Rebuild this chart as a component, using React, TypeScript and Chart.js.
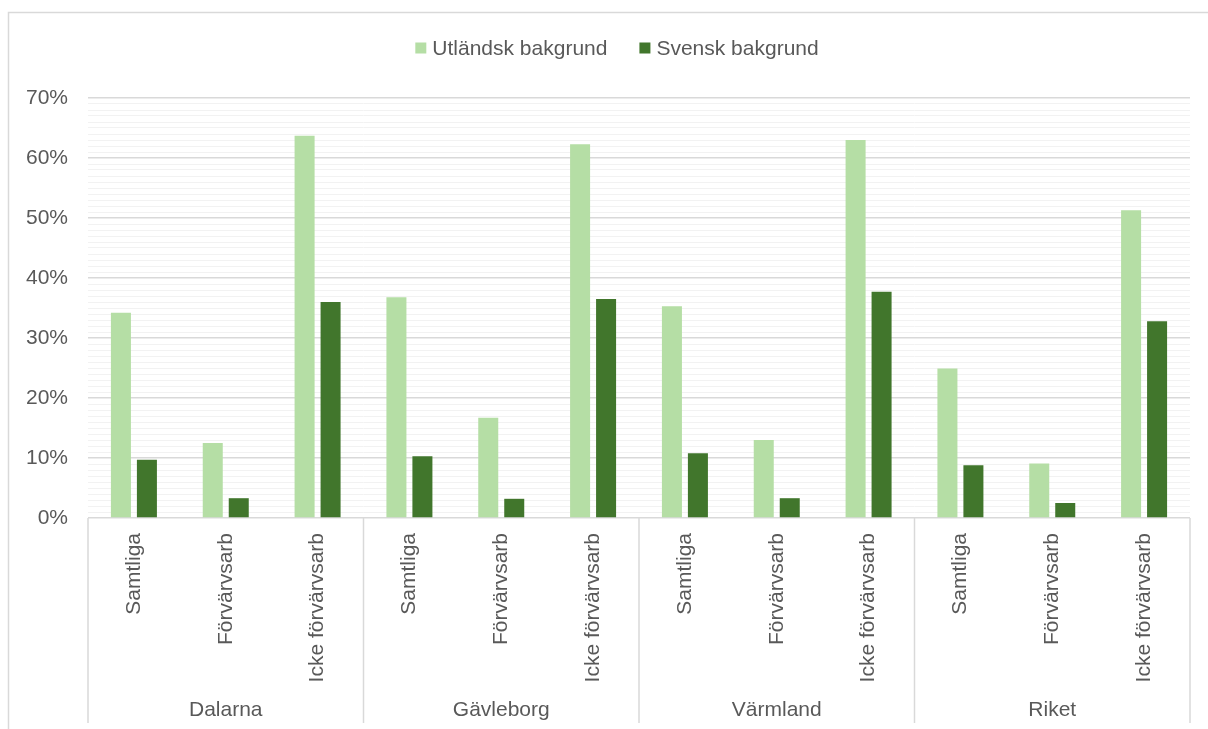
import React, { useEffect, useRef } from "react";
import { Chart, registerables } from "chart.js";

Chart.register(...registerables);

const groups = ["Dalarna", "Gävleborg", "Värmland", "Riket"];
const subCategories = ["Samtliga", "Förvärvsarb", "Icke förvärvsarb"];
const seriesNames = ["Utländsk bakgrund", "Svensk bakgrund"];
const utlandsk = [34.2, 12.5, 63.7, 36.8, 16.7, 62.3, 35.3, 13.0, 63.0, 24.9, 9.1, 51.3];
const svensk = [9.7, 3.3, 36.0, 10.3, 3.2, 36.5, 10.8, 3.3, 37.7, 8.8, 2.5, 32.8];
const yTicksMax = 70;

const LIGHT = "#b5dea5";
const DARK = "#41762c";
const TEXT = "#595959";
const FONT = "'Liberation Sans', Arial, sans-serif";

const labels: string[] = [];
groups.forEach((g) => subCategories.forEach((s) => labels.push(g + " " + s)));

const decorPlugin = {
  id: "decor",
  beforeDraw(chart: any) {
    const ctx = chart.ctx;
    ctx.save();
    ctx.fillStyle = "#ffffff";
    ctx.fillRect(0, 0, chart.width, chart.height);
    ctx.strokeStyle = "#d9d9d9";
    ctx.lineWidth = 1.5;
    ctx.strokeRect(8.5, 12.5, 1205, 740);
    ctx.restore();
  },
  afterDraw(chart: any) {
    const ctx = chart.ctx;
    const xs = chart.scales.x;
    const area = chart.chartArea;
    const n = labels.length;
    const catW = (area.right - area.left) / n;
    ctx.save();
    // separators
    ctx.strokeStyle = "#d9d9d9";
    ctx.lineWidth = 1.5;
    ctx.beginPath();
    for (let g = 0; g <= groups.length; g++) {
      const x = g < groups.length ? xs.getPixelForValue(g * subCategories.length) - catW / 2 : area.right;
      ctx.moveTo(x, area.bottom);
      ctx.lineTo(x, area.bottom + 205);
    }
    ctx.stroke();
    ctx.fillStyle = TEXT;
    ctx.font = "21px " + FONT;
    // sub labels rotated
    for (let i = 0; i < n; i++) {
      const x = xs.getPixelForValue(i);
      ctx.save();
      ctx.translate(x, area.bottom + 15);
      ctx.rotate(-Math.PI / 2);
      ctx.textAlign = "right";
      ctx.textBaseline = "middle";
      ctx.fillText(subCategories[i % subCategories.length], 0, 0);
      ctx.restore();
    }
    // group labels
    ctx.textAlign = "center";
    ctx.textBaseline = "middle";
    groups.forEach((g, gi) => {
      const x0 = xs.getPixelForValue(gi * 3);
      const x1 = xs.getPixelForValue(gi * 3 + 2);
      ctx.fillText(g, (x0 + x1) / 2, area.bottom + 192);
    });
    // legend
    const colors = [LIGHT, DARK];
    const w1 = ctx.measureText(seriesNames[0]).width;
    const w2 = ctx.measureText(seriesNames[1]).width;
    const total = 11 + 6 + w1 + 32 + 11 + 6 + w2;
    let x = 617 - total / 2;
    const cy = 48;
    ctx.textAlign = "left";
    [w1, w2].forEach((w, i) => {
      ctx.fillStyle = colors[i];
      ctx.fillRect(x, cy - 5.5, 11, 11);
      ctx.fillStyle = TEXT;
      ctx.fillText(seriesNames[i], x + 17, cy + 1);
      x += 17 + w + 32;
    });
    ctx.restore();
  },
};

export default function App() {
  const ref = useRef<HTMLCanvasElement | null>(null);
  useEffect(() => {
    if (!ref.current) return;
    const chart = new Chart(ref.current, {
      type: "bar",
      data: {
        labels,
        datasets: [
          { label: seriesNames[0], data: utlandsk, backgroundColor: LIGHT, barPercentage: 0.77, categoryPercentage: 0.566 },
          { label: seriesNames[1], data: svensk, backgroundColor: DARK, barPercentage: 0.77, categoryPercentage: 0.566 },
        ],
      },
      options: {
        responsive: false,
        animation: false,
        layout: { padding: { top: 98, left: 0, right: 18, bottom: 0 } },
        plugins: { legend: { display: false }, tooltip: { enabled: false } },
        scales: {
          x: {
            grid: { display: false },
            border: { display: false },
            ticks: { display: false },
            afterFit: (s: any) => {
              s.height = 211;
            },
          },
          y: {
            min: 0,
            max: yTicksMax,
            border: { display: false },
            grid: {
              drawTicks: false,
              color: (c: any) => (c.tick && c.tick.value % 10 === 0 ? "#d9d9d9" : "#f2f2f2"),
              lineWidth: (c: any) => (c.tick && c.tick.value % 10 === 0 ? 1.5 : 1),
            },
            ticks: {
              stepSize: 1,
              maxTicksLimit: 200,
              autoSkip: false,
              padding: 20,
              color: TEXT,
              font: { family: FONT, size: 21 },
              callback: (v: any) => (Number(v) % 10 === 0 ? v + "%" : ""),
            },
            afterFit: (s: any) => {
              s.width = 88;
            },
          },
        },
      },
      plugins: [decorPlugin],
    });
    return () => chart.destroy();
  }, []);
  return (
    <div style={{ position: "absolute", left: 0, top: 0, width: 1208, height: 729 }}>
      <canvas ref={ref} width={1208} height={729} style={{ width: 1208, height: 729, display: "block" }} />
    </div>
  );
}
